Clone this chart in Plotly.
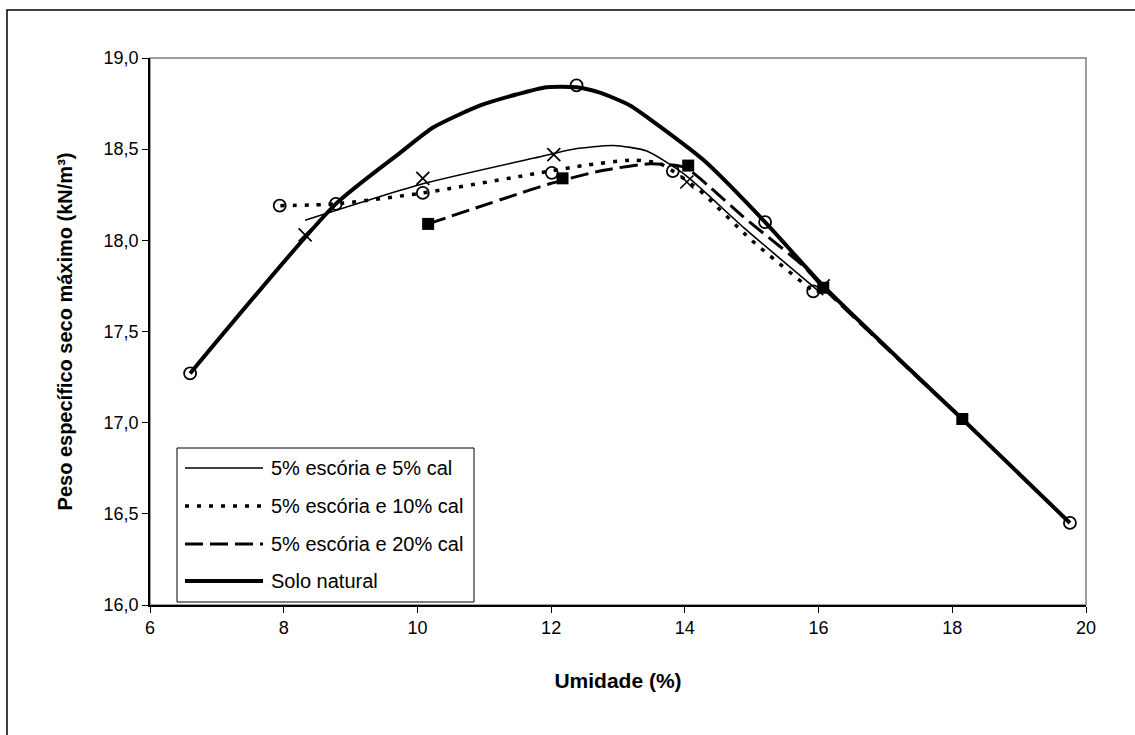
import plotly.graph_objects as go

# ---- data ----
names = ["5% escória e 5% cal", "5% escória e 10% cal", "5% escória e 20% cal", "Solo natural"]

# measured points (markers)
x_cal5 = [8.32, 10.08, 12.04, 14.03, 16.07]
y_cal5 = [18.03, 18.34, 18.47, 18.32, 17.75]

x_cal10 = [7.94, 10.08, 12.01, 13.82, 15.92]
y_cal10 = [18.19, 18.26, 18.37, 18.38, 17.72]

x_cal20 = [10.16, 12.17, 14.05, 16.07, 18.15]
y_cal20 = [18.09, 18.34, 18.41, 17.74, 17.02]

x_solo = [6.60, 8.78, 12.38, 15.20, 19.76]
y_solo = [17.27, 18.20, 18.85, 18.10, 16.45]

# smoothed curves as drawn in the chart
cx_cal5 = [8.32, 10.08, 11.73, 12.33, 12.93, 13.43, 14.00, 14.88, 16.07]
cy_cal5 = [18.11, 18.31, 18.45, 18.50, 18.52, 18.49, 18.36, 18.07, 17.70]

cx_cal10 = [7.95, 8.78, 10.08, 11.83, 12.48, 13.23, 13.63, 14.20, 15.00, 15.92]
cy_cal10 = [18.19, 18.20, 18.26, 18.37, 18.41, 18.44, 18.42, 18.28, 18.00, 17.72]

cx_cal20 = [10.16, 11.98, 12.73, 13.48, 14.00, 14.38, 14.87, 15.77, 16.07, 17.30, 18.15]
cy_cal20 = [18.09, 18.31, 18.38, 18.42, 18.40, 18.29, 18.13, 17.86, 17.74, 17.31, 17.02]

cx_solo = [6.60, 8.78, 9.74, 10.24, 10.94, 11.48, 11.93, 12.38, 12.73, 13.18, 13.68, 14.28, 15.20,
           16.07, 17.37, 18.15, 19.76]
cy_solo = [17.27, 18.20, 18.48, 18.62, 18.74, 18.80, 18.84, 18.84, 18.81, 18.74, 18.61, 18.44, 18.10,
           17.75, 17.29, 17.02, 16.45]

x_ticks = [6, 8, 10, 12, 14, 16, 18, 20]
y_ticks = [16.0, 16.5, 17.0, 17.5, 18.0, 18.5, 19.0]

# ---- layout geometry (pixels) ----
W, H = 1135, 735
L, R, T, B = 150, 49, 58, 130
PW, PH = W - L - R, H - T - B


def px(xp):
    return (xp - L) / PW


def py(yp):
    return (H - B - yp) / PH


FONT = "Arial, Liberation Sans, sans-serif"

styles = [
    dict(width=1.6, dash="solid"),
    dict(width=3.5, dash="4px,8px"),
    dict(width=3, dash="18px,7px"),
    dict(width=4, dash="solid"),
]
markers = [
    dict(symbol="x-thin-open", size=13, color="black", line=dict(width=1.7, color="black")),
    dict(symbol="circle-open", size=12, color="black", line=dict(width=1.8, color="black")),
    dict(symbol="square", size=12, color="black", line=dict(width=0, color="black")),
    dict(symbol="circle-open", size=12, color="black", line=dict(width=1.8, color="black")),
]
curves = [(cx_cal5, cy_cal5), (cx_cal10, cy_cal10), (cx_cal20, cy_cal20), (cx_solo, cy_solo)]
points = [(x_cal5, y_cal5), (x_cal10, y_cal10), (x_cal20, y_cal20), (x_solo, y_solo)]

fig = go.Figure()
for (xs, ys), st, nm in zip(curves, styles, names):
    fig.add_trace(go.Scatter(
        x=xs, y=ys, mode="lines", name=nm, showlegend=False,
        line=dict(color="black", width=st["width"], dash=st["dash"], shape="spline", smoothing=0.6),
    ))
for (xs, ys), mk, nm in zip(points, markers, names):
    fig.add_trace(go.Scatter(x=xs, y=ys, mode="markers", name=nm, showlegend=False, marker=mk))

shapes = []
shapes.append(dict(type="rect", xref="paper", yref="paper", x0=px(7), x1=px(1140), y0=py(10), y1=py(745),
                   line=dict(color="black", width=1.5), fillcolor="rgba(0,0,0,0)", layer="below"))
shapes.append(dict(type="rect", xref="paper", yref="paper", x0=0, x1=1, y0=0, y1=1,
                   line=dict(color="#808080", width=1.5), fillcolor="rgba(0,0,0,0)", layer="below"))

leg_left, leg_top, leg_bottom, leg_right = 177, 448, 602, 474
shapes.append(dict(type="rect", xref="paper", yref="paper", x0=px(leg_left), x1=px(leg_right),
                   y0=py(leg_bottom), y1=py(leg_top), line=dict(color="black", width=1),
                   fillcolor="white", layer="above"))
annotations = []
rows = [468, 506, 544, 581]
for nm, st, ry in zip(names, styles, rows):
    shapes.append(dict(type="line", xref="paper", yref="paper", x0=px(185), x1=px(263), y0=py(ry), y1=py(ry),
                       line=dict(color="black", width=st["width"], dash=st["dash"]), layer="above"))
    annotations.append(dict(xref="paper", yref="paper", x=px(269), y=py(ry), text=nm, showarrow=False,
                            xanchor="left", yanchor="middle", font=dict(family=FONT, size=20, color="black")))

fig.update_layout(
    width=W, height=H,
    margin=dict(l=L, r=R, t=T, b=B, pad=0),
    paper_bgcolor="white", plot_bgcolor="white",
    separators=", ",
    showlegend=False,
    font=dict(family=FONT, size=18, color="black"),
    shapes=shapes,
    annotations=annotations,
    xaxis=dict(range=[6, 20], tickvals=x_ticks, showgrid=False, zeroline=False,
               showline=True, linecolor="black", linewidth=1.5,
               ticks="outside", ticklen=6, tickcolor="black", tickwidth=1.2,
               tickfont=dict(family=FONT, size=18),
               title=dict(text="Umidade (%)", font=dict(family=FONT, size=21, weight="bold"), standoff=36)),
    yaxis=dict(range=[16, 19], tickvals=y_ticks, tickformat=".1f", showgrid=False, zeroline=False,
               showline=True, linecolor="black", linewidth=1.5,
               ticks="outside", ticklen=6, tickcolor="black", tickwidth=1.2,
               tickfont=dict(family=FONT, size=18),
               title=dict(text="Peso específico seco máximo (kN/m³)",
                          font=dict(family=FONT, size=20, weight="bold"), standoff=26)),
)

fig.write_html("out.html")
